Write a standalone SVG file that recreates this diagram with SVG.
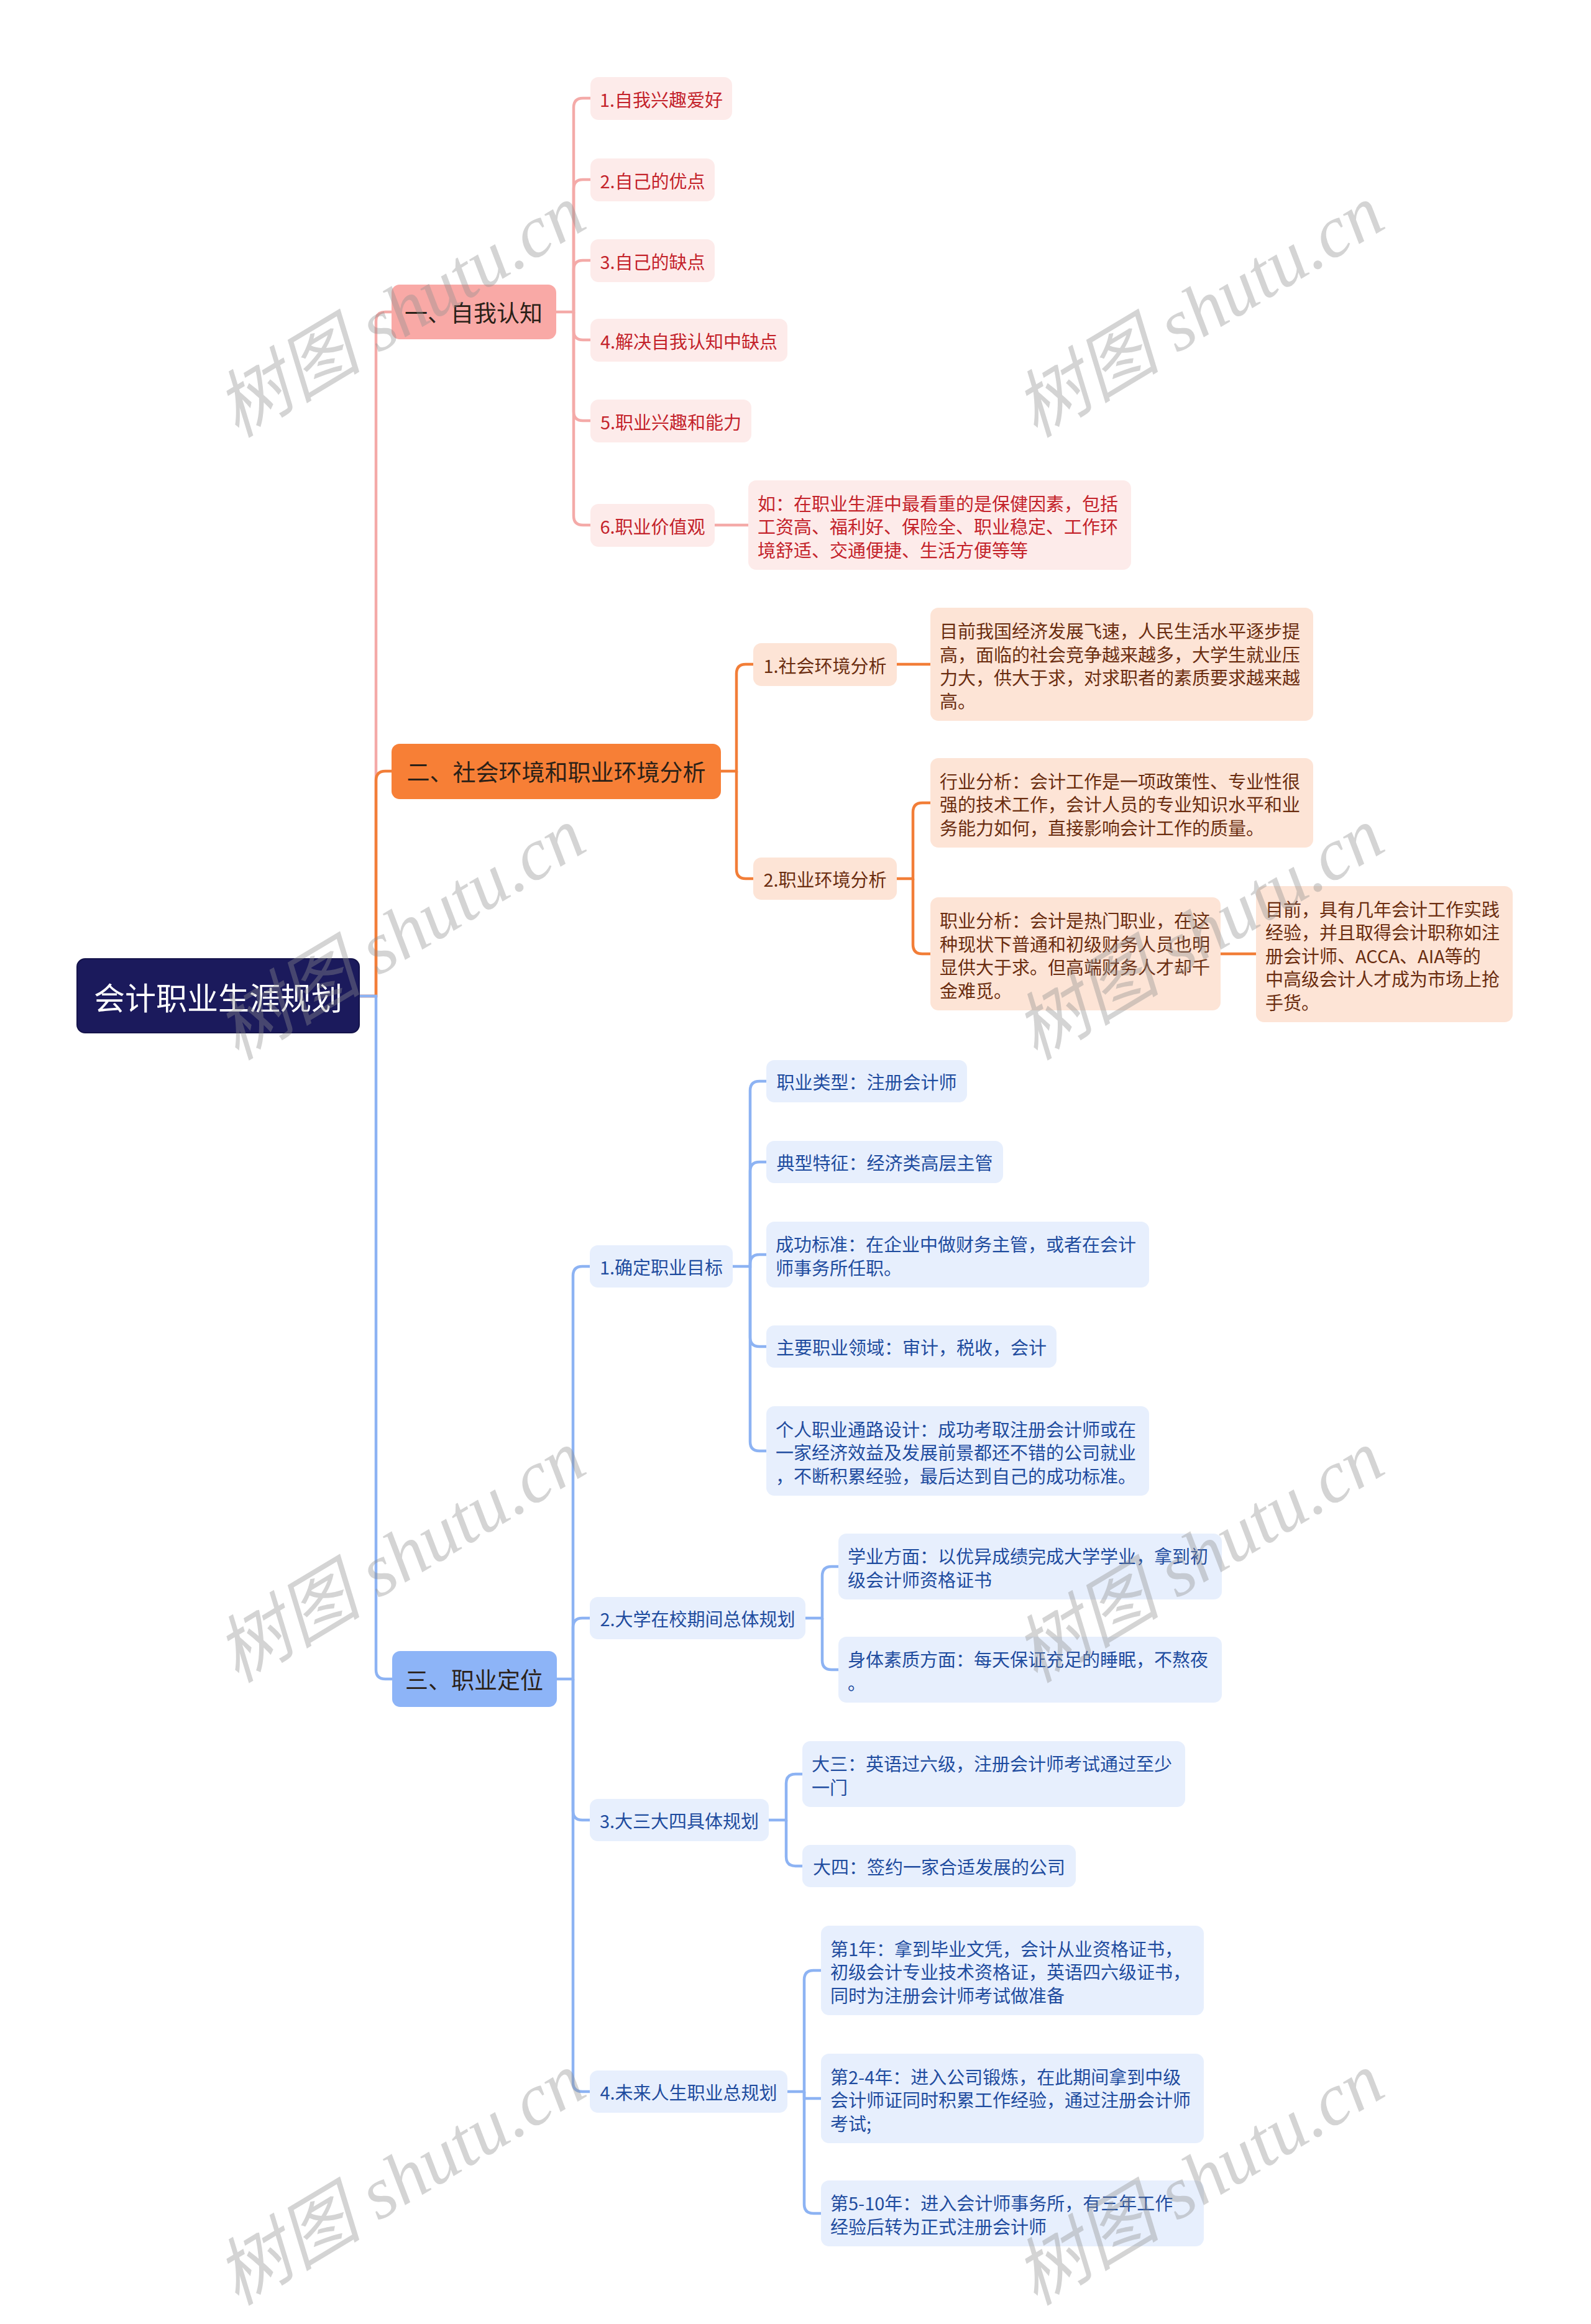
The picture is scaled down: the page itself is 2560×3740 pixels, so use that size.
<svg xmlns="http://www.w3.org/2000/svg" width="2560" height="3740" viewBox="0 0 2560 3740">
<style>
.t{font-family:"Noto Sans CJK SC","Microsoft YaHei","Noto Sans",sans-serif;dominant-baseline:central}
.c{text-anchor:middle}
.s{font-size:29px}
.l1{font-size:37px;fill:#2b2118}
.root{font-size:50px;fill:#ffffff}
.pk{fill:#fdebea}.pkt{fill:#c4232b}
.or{fill:#fde4d6}.ort{fill:#6b2d10}
.bl{fill:#e7effd}.blt{fill:#1f4c9f}
.lp{fill:none;stroke:#f4aaa8;stroke-width:4.5}
.lo{fill:none;stroke:#f27e38;stroke-width:4.5}
.lb{fill:none;stroke:#8db3f3;stroke-width:4.5}
.wm{font-family:"Liberation Serif","Noto Sans CJK SC",serif;font-style:italic;font-size:118px;fill:#8f8f8f;opacity:0.38;text-anchor:middle}
</style>
<rect width="2560" height="3740" fill="#ffffff"/>
<g id="connectors">
<path class="lp" d="M577,1603 H605 V517 Q605,502 620,502 H631"/>
<path class="lo" d="M577,1603 H605 V1256 Q605,1241 620,1241 H631"/>
<path class="lb" d="M577,1603 H605 V2687 Q605,2702 620,2702 H631"/>
<path class="lp" d="M895,502 H923 V173 Q923,158 938,158 H950"/>
<path class="lp" d="M923,502 V304 Q923,289 938,289 H950"/>
<path class="lp" d="M923,502 V434 Q923,419 938,419 H950"/>
<path class="lp" d="M923,502 V532 Q923,547 938,547 H950"/>
<path class="lp" d="M923,502 V662 Q923,677 938,677 H950"/>
<path class="lp" d="M923,502 V830 Q923,845 938,845 H950"/>
<path class="lp" d="M1150,845 H1204"/>
<path class="lo" d="M1160,1241 H1185 V1084 Q1185,1069 1200,1069 H1212"/>
<path class="lo" d="M1185,1241 V1399 Q1185,1414 1200,1414 H1212"/>
<path class="lo" d="M1443,1069 H1497"/>
<path class="lo" d="M1443,1414 H1469 V1307 Q1469,1292 1484,1292 H1497"/>
<path class="lo" d="M1469,1414 V1520 Q1469,1535 1484,1535 H1497"/>
<path class="lo" d="M1964,1535 H2021"/>
<path class="lb" d="M896,2702 H922 V2053 Q922,2038 937,2038 H949"/>
<path class="lb" d="M922,2702 V2619 Q922,2604 937,2604 H949"/>
<path class="lb" d="M922,2702 V2914 Q922,2929 937,2929 H949"/>
<path class="lb" d="M922,2702 V3351 Q922,3366 937,3366 H949"/>
<path class="lb" d="M1179,2038 H1207 V1755 Q1207,1740 1222,1740 H1233"/>
<path class="lb" d="M1207,2038 V1885 Q1207,1870 1222,1870 H1233"/>
<path class="lb" d="M1207,2038 V2034 Q1207,2019 1222,2019 H1233"/>
<path class="lb" d="M1207,2038 V2152 Q1207,2167 1222,2167 H1233"/>
<path class="lb" d="M1207,2038 V2320 Q1207,2335 1222,2335 H1233"/>
<path class="lb" d="M1296,2604 H1323 V2536 Q1323,2521 1338,2521 H1349"/>
<path class="lb" d="M1323,2604 V2672 Q1323,2687 1338,2687 H1349"/>
<path class="lb" d="M1237,2929 H1265 V2870 Q1265,2855 1280,2855 H1291"/>
<path class="lb" d="M1265,2929 V2988 Q1265,3003 1280,3003 H1291"/>
<path class="lb" d="M1267,3366 H1294 V3186 Q1294,3171 1309,3171 H1321"/>
<path class="lb" d="M1294,3366 V3377 H1321"/>
<path class="lb" d="M1294,3366 V3547 Q1294,3562 1309,3562 H1321"/>
</g>
<g id="root"><rect x="124" y="1543" width="454" height="119" rx="13" fill="#1b1a5c" stroke="#14134a" stroke-width="2"/><text class="t c root" x="351" y="1603">会计职业生涯规划</text></g>
<g id="n1"><rect x="630" y="458" width="265" height="88" rx="13" fill="#f9a9a6"/><text class="t c l1" x="762" y="502">一、自我认知</text></g>
<g id="n2"><rect x="630" y="1197" width="530" height="89" rx="13" fill="#f77f36"/><text class="t c l1" x="895" y="1241">二、社会环境和职业环境分析</text></g>
<g id="n3"><rect x="631" y="2657" width="265" height="90" rx="13" fill="#8db4f7"/><text class="t c l1" x="763" y="2702">三、职业定位</text></g>

<g id="a1"><rect class="pk" x="950" y="124" width="228" height="69" rx="13"/><text class="t c s pkt" x="1064" y="158.5">1.自我兴趣爱好</text></g>
<g id="a2"><rect class="pk" x="950" y="255" width="200" height="69" rx="13"/><text class="t c s pkt" x="1050" y="289.5">2.自己的优点</text></g>
<g id="a3"><rect class="pk" x="950" y="385" width="200" height="69" rx="13"/><text class="t c s pkt" x="1050" y="419.5">3.自己的缺点</text></g>
<g id="a4"><rect class="pk" x="950" y="513" width="317" height="69" rx="13"/><text class="t c s pkt" x="1108.5" y="547.5">4.解决自我认知中缺点</text></g>
<g id="a5"><rect class="pk" x="950" y="643" width="259" height="69" rx="13"/><text class="t c s pkt" x="1079.5" y="677.5">5.职业兴趣和能力</text></g>
<g id="a6"><rect class="pk" x="950" y="811" width="200" height="69" rx="13"/><text class="t c s pkt" x="1050" y="845.5">6.职业价值观</text></g>
<g id="a6d"><rect class="pk" x="1204" y="773" width="616" height="144" rx="13"/><text class="t s pkt"><tspan x="1219" y="808.5">如：在职业生涯中最看重的是保健因素，包括</tspan><tspan x="1219" y="846">工资高、福利好、保险全、职业稳定、工作环</tspan><tspan x="1219" y="883.5">境舒适、交通便捷、生活方便等等</tspan></text></g>

<g id="b1"><rect class="or" x="1212" y="1035" width="231" height="69" rx="13"/><text class="t c s ort" x="1327.5" y="1069.5">1.社会环境分析</text></g>
<g id="b1d"><rect class="or" x="1497" y="978" width="616" height="182" rx="13"/><text class="t s ort"><tspan x="1512" y="1014">目前我国经济发展飞速，人民生活水平逐步提</tspan><tspan x="1512" y="1051.5">高，面临的社会竞争越来越多，大学生就业压</tspan><tspan x="1512" y="1089">力大，供大于求，对求职者的素质要求越来越</tspan><tspan x="1512" y="1126.5">高。</tspan></text></g>
<g id="b2"><rect class="or" x="1212" y="1380" width="231" height="68" rx="13"/><text class="t c s ort" x="1327.5" y="1414">2.职业环境分析</text></g>
<g id="b2a"><rect class="or" x="1497" y="1220" width="616" height="144" rx="13"/><text class="t s ort"><tspan x="1512" y="1255.5">行业分析：会计工作是一项政策性、专业性很</tspan><tspan x="1512" y="1293">强的技术工作，会计人员的专业知识水平和业</tspan><tspan x="1512" y="1330.5">务能力如何，直接影响会计工作的质量。</tspan></text></g>
<g id="b2b"><rect class="or" x="1497" y="1444" width="467" height="182" rx="13"/><text class="t s ort"><tspan x="1512" y="1480">职业分析：会计是热门职业，在这</tspan><tspan x="1512" y="1517.5">种现状下普通和初级财务人员也明</tspan><tspan x="1512" y="1555">显供大于求。但高端财务人才却千</tspan><tspan x="1512" y="1592.5">金难觅。</tspan></text></g>
<g id="b2b1"><rect class="or" x="2021" y="1426" width="413" height="219" rx="13"/><text class="t s ort"><tspan x="2036" y="1461.5">目前，具有几年会计工作实践</tspan><tspan x="2036" y="1499">经验，并且取得会计职称如注</tspan><tspan x="2036" y="1536.5">册会计师、ACCA、AIA等的</tspan><tspan x="2036" y="1574">中高级会计人才成为市场上抢</tspan><tspan x="2036" y="1611.5">手货。</tspan></text></g>

<g id="c1"><rect class="bl" x="949" y="2004" width="230" height="68" rx="13"/><text class="t c s blt" x="1064" y="2038">1.确定职业目标</text></g>
<g id="c1a"><rect class="bl" x="1233" y="1706" width="323" height="68" rx="13"/><text class="t c s blt" x="1394.5" y="1740">职业类型：注册会计师</text></g>
<g id="c1b"><rect class="bl" x="1233" y="1836" width="381" height="68" rx="13"/><text class="t c s blt" x="1423.5" y="1870">典型特征：经济类高层主管</text></g>
<g id="c1c"><rect class="bl" x="1233" y="1966" width="616" height="106" rx="13"/><text class="t s blt"><tspan x="1248" y="2001">成功标准：在企业中做财务主管，或者在会计</tspan><tspan x="1248" y="2038.5">师事务所任职。</tspan></text></g>
<g id="c1d"><rect class="bl" x="1233" y="2133" width="467" height="68" rx="13"/><text class="t c s blt" x="1466.5" y="2167">主要职业领域：审计，税收，会计</text></g>
<g id="c1e"><rect class="bl" x="1233" y="2263" width="616" height="144" rx="13"/><text class="t s blt"><tspan x="1248" y="2298.5">个人职业通路设计：成功考取注册会计师或在</tspan><tspan x="1248" y="2336">一家经济效益及发展前景都还不错的公司就业</tspan><tspan x="1248" y="2373.5">，不断积累经验，最后达到自己的成功标准。</tspan></text></g>
<g id="c2"><rect class="bl" x="949" y="2570" width="347" height="68" rx="13"/><text class="t c s blt" x="1122.5" y="2604">2.大学在校期间总体规划</text></g>
<g id="c2a"><rect class="bl" x="1349" y="2468" width="617" height="106" rx="13"/><text class="t s blt"><tspan x="1364" y="2503">学业方面：以优异成绩完成大学学业，拿到初</tspan><tspan x="1364" y="2540.5">级会计师资格证书</tspan></text></g>
<g id="c2b"><rect class="bl" x="1349" y="2634" width="617" height="106" rx="13"/><text class="t s blt"><tspan x="1364" y="2669">身体素质方面：每天保证充足的睡眠，不熬夜</tspan><tspan x="1364" y="2706.5">。</tspan></text></g>
<g id="c3"><rect class="bl" x="949" y="2895" width="288" height="68" rx="13"/><text class="t c s blt" x="1093" y="2929">3.大三大四具体规划</text></g>
<g id="c3a"><rect class="bl" x="1291" y="2802" width="616" height="106" rx="13"/><text class="t s blt"><tspan x="1306" y="2837">大三：英语过六级，注册会计师考试通过至少</tspan><tspan x="1306" y="2874.5">一门</tspan></text></g>
<g id="c3b"><rect class="bl" x="1291" y="2969" width="440" height="68" rx="13"/><text class="t c s blt" x="1511" y="3003">大四：签约一家合适发展的公司</text></g>
<g id="c4"><rect class="bl" x="949" y="3332" width="318" height="68" rx="13"/><text class="t c s blt" x="1108" y="3366">4.未来人生职业总规划</text></g>
<g id="c4a"><rect class="bl" x="1321" y="3099" width="616" height="144" rx="13"/><text class="t s blt"><tspan x="1336" y="3134.5">第1年：拿到毕业文凭，会计从业资格证书，</tspan><tspan x="1336" y="3172">初级会计专业技术资格证，英语四六级证书，</tspan><tspan x="1336" y="3209.5">同时为注册会计师考试做准备</tspan></text></g>
<g id="c4b"><rect class="bl" x="1321" y="3305" width="616" height="144" rx="13"/><text class="t s blt"><tspan x="1336" y="3340.5">第2-4年：进入公司锻炼，在此期间拿到中级</tspan><tspan x="1336" y="3378">会计师证同时积累工作经验，通过注册会计师</tspan><tspan x="1336" y="3415.5">考试;</tspan></text></g>
<g id="c4c"><rect class="bl" x="1321" y="3509" width="616" height="106" rx="13"/><text class="t s blt"><tspan x="1336" y="3544">第5-10年：进入会计师事务所，有三年工作</tspan><tspan x="1336" y="3581.5">经验后转为正式注册会计师</tspan></text></g>

<g id="watermarks">
<text class="wm" transform="translate(665,535) rotate(-31)">树图 shutu.cn</text>
<text class="wm" transform="translate(1950,535) rotate(-31)">树图 shutu.cn</text>
<text class="wm" transform="translate(665,1537) rotate(-31)">树图 shutu.cn</text>
<text class="wm" transform="translate(1950,1537) rotate(-31)">树图 shutu.cn</text>
<text class="wm" transform="translate(665,2539) rotate(-31)">树图 shutu.cn</text>
<text class="wm" transform="translate(1950,2539) rotate(-31)">树图 shutu.cn</text>
<text class="wm" transform="translate(665,3541) rotate(-31)">树图 shutu.cn</text>
<text class="wm" transform="translate(1950,3541) rotate(-31)">树图 shutu.cn</text>
</g>
</svg>
